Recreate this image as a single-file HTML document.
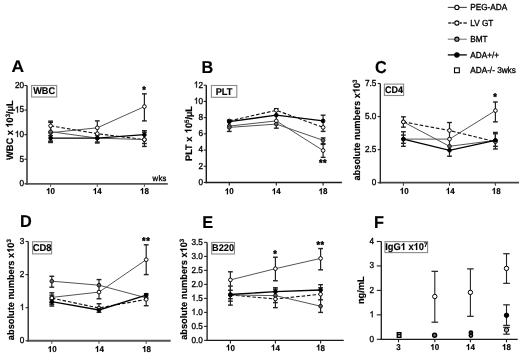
<!DOCTYPE html><html><head><meta charset="utf-8"><style>html,body{margin:0;padding:0;background:#fff;width:520px;height:355px;overflow:hidden}svg{display:block;font-family:"Liberation Sans",sans-serif;will-change:transform;text-rendering:geometricPrecision}</style></head><body>
<svg width="520" height="355" viewBox="0 0 520 355">
<rect width="520" height="355" fill="#fff"/>
<text transform="translate(11.5,72.3) scale(1.07,1.02)" font-size="16.3" font-weight="bold" stroke="#000" stroke-width="0.15">A</text>
<line x1="27" y1="85.5" x2="27" y2="184.70000000000002" stroke="#555" stroke-width="1.8" />
<line x1="26.1" y1="183.8" x2="167.8" y2="183.8" stroke="#555" stroke-width="1.8" />
<line x1="24.4" y1="183.8" x2="27" y2="183.8" stroke="#222" stroke-width="1.1" />
<text transform="translate(24.0,186.20000000000002) scale(1,1.06)" font-size="8.2" font-weight="normal" text-anchor="end" fill="#000"  stroke="#000" stroke-width="0.3">0</text>
<line x1="24.4" y1="159.22500000000002" x2="27" y2="159.22500000000002" stroke="#222" stroke-width="1.1" />
<text transform="translate(24.0,161.62500000000003) scale(1,1.06)" font-size="8.2" font-weight="normal" text-anchor="end" fill="#000"  stroke="#000" stroke-width="0.3">5</text>
<line x1="24.4" y1="134.65" x2="27" y2="134.65" stroke="#222" stroke-width="1.1" />
<path d="M763,0L583,0L583,1147C540,1106 483,1065 413,1024C343,983 280,952 224,931L224,1105C325,1152 413,1210 488,1277C563,1344 616,1409 647,1472L763,1472Z" transform="translate(14.88,137.05) scale(0.00400,-0.00424)" fill="#000" stroke="#000" stroke-width="0.3" vector-effect="non-scaling-stroke"/>
<text transform="translate(19.44,137.05) scale(1,1.06)" font-size="8.2" font-weight="normal" text-anchor="start" fill="#000"  stroke="#000" stroke-width="0.3">0</text>
<line x1="24.4" y1="110.075" x2="27" y2="110.075" stroke="#222" stroke-width="1.1" />
<path d="M763,0L583,0L583,1147C540,1106 483,1065 413,1024C343,983 280,952 224,931L224,1105C325,1152 413,1210 488,1277C563,1344 616,1409 647,1472L763,1472Z" transform="translate(14.88,112.47500000000001) scale(0.00400,-0.00424)" fill="#000" stroke="#000" stroke-width="0.3" vector-effect="non-scaling-stroke"/>
<text transform="translate(19.44,112.47500000000001) scale(1,1.06)" font-size="8.2" font-weight="normal" text-anchor="start" fill="#000"  stroke="#000" stroke-width="0.3">5</text>
<line x1="24.4" y1="85.5" x2="27" y2="85.5" stroke="#222" stroke-width="1.1" />
<text transform="translate(24.0,87.9) scale(1,1.06)" font-size="8.2" font-weight="normal" text-anchor="end" fill="#000"  stroke="#000" stroke-width="0.3">20</text>
<line x1="50.6" y1="183.8" x2="50.6" y2="186.8" stroke="#555" stroke-width="1.1" />
<path d="M806,0L525,0L525,1036C422,940 300,867 160,818L160,1068C234,1092 314,1138 400,1205C486,1272 546,1359 579,1466L806,1466Z" transform="translate(46.15,194.0) scale(0.00391,-0.00414)" fill="#000" stroke="#000" stroke-width="0.15" vector-effect="non-scaling-stroke"/>
<text transform="translate(50.6,194.0) scale(1,1.06)" font-size="8" font-weight="bold" text-anchor="start" fill="#000"  stroke="#000" stroke-width="0.15">0</text>
<line x1="97.3" y1="183.8" x2="97.3" y2="186.8" stroke="#555" stroke-width="1.1" />
<path d="M806,0L525,0L525,1036C422,940 300,867 160,818L160,1068C234,1092 314,1138 400,1205C486,1272 546,1359 579,1466L806,1466Z" transform="translate(92.85,194.0) scale(0.00391,-0.00414)" fill="#000" stroke="#000" stroke-width="0.15" vector-effect="non-scaling-stroke"/>
<text transform="translate(97.3,194.0) scale(1,1.06)" font-size="8" font-weight="bold" text-anchor="start" fill="#000"  stroke="#000" stroke-width="0.15">4</text>
<line x1="144.4" y1="183.8" x2="144.4" y2="186.8" stroke="#555" stroke-width="1.1" />
<path d="M806,0L525,0L525,1036C422,940 300,867 160,818L160,1068C234,1092 314,1138 400,1205C486,1272 546,1359 579,1466L806,1466Z" transform="translate(139.95,194.0) scale(0.00391,-0.00414)" fill="#000" stroke="#000" stroke-width="0.15" vector-effect="non-scaling-stroke"/>
<text transform="translate(144.4,194.0) scale(1,1.06)" font-size="8" font-weight="bold" text-anchor="start" fill="#000"  stroke="#000" stroke-width="0.15">8</text>
<g transform="translate(12.6,130.2) rotate(-90)"><text style="white-space:pre" transform="translate(-29.83,0) scale(1,1.03)" font-size="9.25" font-weight="bold" stroke="#000" stroke-width="0.15">WBC x </text><path d="M806,0L525,0L525,1036C422,940 300,867 160,818L160,1068C234,1092 314,1138 400,1205C486,1272 546,1359 579,1466L806,1466Z" transform="translate(2.54,0) scale(0.00452,-0.00465)" fill="#000" stroke="#000" stroke-width="0.15" vector-effect="non-scaling-stroke"/><text style="white-space:pre" transform="translate(7.69,0) scale(1,1.03)" font-size="9.25" font-weight="bold" stroke="#000" stroke-width="0.15">0</text><text style="white-space:pre" transform="translate(12.83,-2.8) scale(1,1.03)" font-size="6.2" font-weight="bold" stroke="#000" stroke-width="0.15">3</text><text style="white-space:pre" transform="translate(16.28,0) scale(1,1.03)" font-size="9.25" font-weight="bold" stroke="#000" stroke-width="0.15">/µL</text></g>
<rect x="31.6" y="85.5" width="25.1" height="11.5" fill="#fff" stroke="#8a8a8a" stroke-width="1.1"/>
<text transform="translate(44.150000000000006,94.39999999999999) scale(1,1.06)" font-size="9.2" font-weight="bold" text-anchor="middle" fill="#000"  stroke="#000" stroke-width="0.15">WBC</text>
<polyline points="50.6,132.7 97.3,127.8 144.4,106.6" fill="none" stroke="#555" stroke-width="1.0" />
<polyline points="50.6,125.8 97.3,133.7 144.4,139.6" fill="none" stroke="#111" stroke-width="1.1" stroke-dasharray="3.6,1.9"/>
<polyline points="50.6,131.7 97.3,138.1 144.4,139.6" fill="none" stroke="#555" stroke-width="1.0" />
<polyline points="50.6,138.1 97.3,138.1 144.4,134.7" fill="none" stroke="#000" stroke-width="1.35" />
<line x1="50.6" y1="122.3625" x2="50.6" y2="142.0225" stroke="#222" stroke-width="1.2" />
<line x1="48.2" y1="122.3625" x2="53.0" y2="122.3625" stroke="#222" stroke-width="1.4" />
<line x1="48.2" y1="142.0225" x2="53.0" y2="142.0225" stroke="#222" stroke-width="1.4" />
<line x1="50.6" y1="121.13374999999999" x2="50.6" y2="141.0395" stroke="#222" stroke-width="1.2" />
<line x1="48.2" y1="121.13374999999999" x2="53.0" y2="121.13374999999999" stroke="#222" stroke-width="1.4" />
<line x1="48.2" y1="141.0395" x2="53.0" y2="141.0395" stroke="#222" stroke-width="1.4" />
<line x1="50.6" y1="135.63299999999998" x2="50.6" y2="142.514" stroke="#222" stroke-width="1.2" />
<line x1="48.2" y1="135.63299999999998" x2="53.0" y2="135.63299999999998" stroke="#222" stroke-width="1.4" />
<line x1="48.2" y1="142.514" x2="53.0" y2="142.514" stroke="#222" stroke-width="1.4" />
<line x1="97.3" y1="120.888" x2="97.3" y2="142.0225" stroke="#222" stroke-width="1.2" />
<line x1="94.89999999999999" y1="120.888" x2="99.7" y2="120.888" stroke="#222" stroke-width="1.4" />
<line x1="94.89999999999999" y1="142.0225" x2="99.7" y2="142.0225" stroke="#222" stroke-width="1.4" />
<line x1="97.3" y1="135.1415" x2="97.3" y2="143.00549999999998" stroke="#222" stroke-width="1.2" />
<line x1="94.89999999999999" y1="135.1415" x2="99.7" y2="135.1415" stroke="#222" stroke-width="1.4" />
<line x1="94.89999999999999" y1="143.00549999999998" x2="99.7" y2="143.00549999999998" stroke="#222" stroke-width="1.4" />
<line x1="144.4" y1="93.85549999999999" x2="144.4" y2="120.888" stroke="#222" stroke-width="1.2" />
<line x1="142.0" y1="93.85549999999999" x2="146.8" y2="93.85549999999999" stroke="#222" stroke-width="1.4" />
<line x1="142.0" y1="120.888" x2="146.8" y2="120.888" stroke="#222" stroke-width="1.4" />
<line x1="144.4" y1="130.718" x2="144.4" y2="146.446" stroke="#222" stroke-width="1.2" />
<line x1="142.0" y1="130.718" x2="146.8" y2="130.718" stroke="#222" stroke-width="1.4" />
<line x1="142.0" y1="146.446" x2="146.8" y2="146.446" stroke="#222" stroke-width="1.4" />
<line x1="144.4" y1="132.1925" x2="144.4" y2="143.497" stroke="#222" stroke-width="1.2" />
<line x1="142.0" y1="132.1925" x2="146.8" y2="132.1925" stroke="#222" stroke-width="1.4" />
<line x1="142.0" y1="143.497" x2="146.8" y2="143.497" stroke="#222" stroke-width="1.4" />
<circle cx="50.6" cy="132.7" r="1.85" fill="#fff" stroke="#000" stroke-width="0.95"/>
<circle cx="97.3" cy="127.8" r="1.85" fill="#fff" stroke="#000" stroke-width="0.95"/>
<circle cx="144.4" cy="106.6" r="1.85" fill="#fff" stroke="#000" stroke-width="0.95"/>
<circle cx="50.6" cy="131.7" r="1.85" fill="#666" stroke="#111" stroke-width="0.95"/>
<circle cx="97.3" cy="138.1" r="1.85" fill="#666" stroke="#111" stroke-width="0.95"/>
<circle cx="144.4" cy="139.6" r="1.85" fill="#666" stroke="#111" stroke-width="0.95"/>
<circle cx="50.6" cy="125.8" r="1.85" fill="#fff" stroke="#000" stroke-width="0.95"/>
<circle cx="97.3" cy="133.7" r="1.85" fill="#fff" stroke="#000" stroke-width="0.95"/>
<circle cx="144.4" cy="139.6" r="1.85" fill="#fff" stroke="#000" stroke-width="0.95"/>
<circle cx="50.6" cy="138.1" r="1.85" fill="#000" stroke="#000" stroke-width="0.95"/>
<circle cx="97.3" cy="138.1" r="1.85" fill="#000" stroke="#000" stroke-width="0.95"/>
<circle cx="144.4" cy="134.7" r="1.85" fill="#000" stroke="#000" stroke-width="0.95"/>
<text transform="translate(144.4,92.6) scale(1,1.06)" font-size="9.2" font-weight="bold" text-anchor="middle" fill="#000" stroke="#000" stroke-width="0.35" letter-spacing="0.6">*</text>
<text transform="translate(201.6,73.0) scale(1,1.06)" font-size="16.3" font-weight="bold" text-anchor="start" fill="#000"  stroke="#000" stroke-width="0.15">B</text>
<line x1="206.3" y1="85.2" x2="206.3" y2="183.2" stroke="#1a1a1a" stroke-width="1.4" />
<line x1="205.60000000000002" y1="182.5" x2="341.9" y2="182.5" stroke="#1a1a1a" stroke-width="1.4" />
<line x1="203.70000000000002" y1="182.5" x2="206.3" y2="182.5" stroke="#222" stroke-width="1.1" />
<text transform="translate(203.0,184.9) scale(1,1.06)" font-size="8.2" font-weight="normal" text-anchor="end" fill="#000"  stroke="#000" stroke-width="0.3">0</text>
<line x1="203.70000000000002" y1="166.28333333333333" x2="206.3" y2="166.28333333333333" stroke="#222" stroke-width="1.1" />
<text transform="translate(203.0,168.68333333333334) scale(1,1.06)" font-size="8.2" font-weight="normal" text-anchor="end" fill="#000"  stroke="#000" stroke-width="0.3">2</text>
<line x1="203.70000000000002" y1="150.06666666666666" x2="206.3" y2="150.06666666666666" stroke="#222" stroke-width="1.1" />
<text transform="translate(203.0,152.46666666666667) scale(1,1.06)" font-size="8.2" font-weight="normal" text-anchor="end" fill="#000"  stroke="#000" stroke-width="0.3">4</text>
<line x1="203.70000000000002" y1="133.85000000000002" x2="206.3" y2="133.85000000000002" stroke="#222" stroke-width="1.1" />
<text transform="translate(203.0,136.25000000000003) scale(1,1.06)" font-size="8.2" font-weight="normal" text-anchor="end" fill="#000"  stroke="#000" stroke-width="0.3">6</text>
<line x1="203.70000000000002" y1="117.63333333333334" x2="206.3" y2="117.63333333333334" stroke="#222" stroke-width="1.1" />
<text transform="translate(203.0,120.03333333333335) scale(1,1.06)" font-size="8.2" font-weight="normal" text-anchor="end" fill="#000"  stroke="#000" stroke-width="0.3">8</text>
<line x1="203.70000000000002" y1="101.41666666666667" x2="206.3" y2="101.41666666666667" stroke="#222" stroke-width="1.1" />
<path d="M763,0L583,0L583,1147C540,1106 483,1065 413,1024C343,983 280,952 224,931L224,1105C325,1152 413,1210 488,1277C563,1344 616,1409 647,1472L763,1472Z" transform="translate(193.88,103.81666666666668) scale(0.00400,-0.00424)" fill="#000" stroke="#000" stroke-width="0.3" vector-effect="non-scaling-stroke"/>
<text transform="translate(198.44,103.81666666666668) scale(1,1.06)" font-size="8.2" font-weight="normal" text-anchor="start" fill="#000"  stroke="#000" stroke-width="0.3">0</text>
<line x1="203.70000000000002" y1="85.20000000000002" x2="206.3" y2="85.20000000000002" stroke="#222" stroke-width="1.1" />
<path d="M763,0L583,0L583,1147C540,1106 483,1065 413,1024C343,983 280,952 224,931L224,1105C325,1152 413,1210 488,1277C563,1344 616,1409 647,1472L763,1472Z" transform="translate(193.88,87.60000000000002) scale(0.00400,-0.00424)" fill="#000" stroke="#000" stroke-width="0.3" vector-effect="non-scaling-stroke"/>
<text transform="translate(198.44,87.60000000000002) scale(1,1.06)" font-size="8.2" font-weight="normal" text-anchor="start" fill="#000"  stroke="#000" stroke-width="0.3">2</text>
<line x1="229.3" y1="182.5" x2="229.3" y2="185.5" stroke="#1a1a1a" stroke-width="1.1" />
<path d="M806,0L525,0L525,1036C422,940 300,867 160,818L160,1068C234,1092 314,1138 400,1205C486,1272 546,1359 579,1466L806,1466Z" transform="translate(224.85,194.3) scale(0.00391,-0.00414)" fill="#000" stroke="#000" stroke-width="0.15" vector-effect="non-scaling-stroke"/>
<text transform="translate(229.3,194.3) scale(1,1.06)" font-size="8" font-weight="bold" text-anchor="start" fill="#000"  stroke="#000" stroke-width="0.15">0</text>
<line x1="276.3" y1="182.5" x2="276.3" y2="185.5" stroke="#1a1a1a" stroke-width="1.1" />
<path d="M806,0L525,0L525,1036C422,940 300,867 160,818L160,1068C234,1092 314,1138 400,1205C486,1272 546,1359 579,1466L806,1466Z" transform="translate(271.85,194.3) scale(0.00391,-0.00414)" fill="#000" stroke="#000" stroke-width="0.15" vector-effect="non-scaling-stroke"/>
<text transform="translate(276.3,194.3) scale(1,1.06)" font-size="8" font-weight="bold" text-anchor="start" fill="#000"  stroke="#000" stroke-width="0.15">4</text>
<line x1="323.1" y1="182.5" x2="323.1" y2="185.5" stroke="#1a1a1a" stroke-width="1.1" />
<path d="M806,0L525,0L525,1036C422,940 300,867 160,818L160,1068C234,1092 314,1138 400,1205C486,1272 546,1359 579,1466L806,1466Z" transform="translate(318.65,194.3) scale(0.00391,-0.00414)" fill="#000" stroke="#000" stroke-width="0.15" vector-effect="non-scaling-stroke"/>
<text transform="translate(323.1,194.3) scale(1,1.06)" font-size="8" font-weight="bold" text-anchor="start" fill="#000"  stroke="#000" stroke-width="0.15">8</text>
<g transform="translate(191.5,133.5) rotate(-90)"><text style="white-space:pre" transform="translate(-27.52,0) scale(1,1.03)" font-size="9.25" font-weight="bold" stroke="#000" stroke-width="0.15">PLT x </text><path d="M806,0L525,0L525,1036C422,940 300,867 160,818L160,1068C234,1092 314,1138 400,1205C486,1272 546,1359 579,1466L806,1466Z" transform="translate(0.23,0) scale(0.00452,-0.00465)" fill="#000" stroke="#000" stroke-width="0.15" vector-effect="non-scaling-stroke"/><text style="white-space:pre" transform="translate(5.38,0) scale(1,1.03)" font-size="9.25" font-weight="bold" stroke="#000" stroke-width="0.15">0</text><text style="white-space:pre" transform="translate(10.52,-2.8) scale(1,1.03)" font-size="6.2" font-weight="bold" stroke="#000" stroke-width="0.15">5</text><text style="white-space:pre" transform="translate(13.97,0) scale(1,1.03)" font-size="9.25" font-weight="bold" stroke="#000" stroke-width="0.15">/µL</text></g>
<rect x="211.4" y="85.5" width="25.400000000000006" height="11.799999999999997" fill="#fff" stroke="#8a8a8a" stroke-width="1.1"/>
<text transform="translate(224.10000000000002,94.8) scale(1,1.06)" font-size="9.3" font-weight="bold" text-anchor="middle" fill="#000"  stroke="#000" stroke-width="0.15">PLT</text>
<polyline points="229.3,126.1 276.3,120.9 323.1,150.5" fill="none" stroke="#555" stroke-width="1.0" />
<polyline points="229.3,120.9 276.3,110.3 323.1,127.4" fill="none" stroke="#111" stroke-width="1.1" stroke-dasharray="3.6,1.9"/>
<polyline points="229.3,127.4 276.3,124.1 323.1,140.3" fill="none" stroke="#555" stroke-width="1.0" />
<polyline points="229.3,121.7 276.3,115.2 323.1,120.9" fill="none" stroke="#000" stroke-width="1.35" />
<line x1="229.3" y1="120.06583333333333" x2="229.3" y2="131.41750000000002" stroke="#222" stroke-width="1.2" />
<line x1="226.9" y1="120.06583333333333" x2="231.70000000000002" y2="120.06583333333333" stroke="#222" stroke-width="1.4" />
<line x1="226.9" y1="131.41750000000002" x2="231.70000000000002" y2="131.41750000000002" stroke="#222" stroke-width="1.4" />
<line x1="276.3" y1="108.71416666666667" x2="276.3" y2="128.17416666666668" stroke="#222" stroke-width="1.2" />
<line x1="273.90000000000003" y1="108.71416666666667" x2="278.7" y2="108.71416666666667" stroke="#222" stroke-width="1.4" />
<line x1="273.90000000000003" y1="128.17416666666668" x2="278.7" y2="128.17416666666668" stroke="#222" stroke-width="1.4" />
<line x1="323.1" y1="115.20083333333334" x2="323.1" y2="131.41750000000002" stroke="#222" stroke-width="1.2" />
<line x1="320.70000000000005" y1="115.20083333333334" x2="325.5" y2="115.20083333333334" stroke="#222" stroke-width="1.4" />
<line x1="320.70000000000005" y1="131.41750000000002" x2="325.5" y2="131.41750000000002" stroke="#222" stroke-width="1.4" />
<line x1="323.1" y1="137.90416666666667" x2="323.1" y2="143.58" stroke="#222" stroke-width="1.2" />
<line x1="320.70000000000005" y1="137.90416666666667" x2="325.5" y2="137.90416666666667" stroke="#222" stroke-width="1.4" />
<line x1="320.70000000000005" y1="143.58" x2="325.5" y2="143.58" stroke="#222" stroke-width="1.4" />
<line x1="323.1" y1="144.39083333333332" x2="323.1" y2="157.36416666666668" stroke="#222" stroke-width="1.2" />
<line x1="320.70000000000005" y1="144.39083333333332" x2="325.5" y2="144.39083333333332" stroke="#222" stroke-width="1.4" />
<line x1="320.70000000000005" y1="157.36416666666668" x2="325.5" y2="157.36416666666668" stroke="#222" stroke-width="1.4" />
<circle cx="229.3" cy="126.1" r="1.85" fill="#fff" stroke="#000" stroke-width="0.95"/>
<circle cx="276.3" cy="120.9" r="1.85" fill="#fff" stroke="#000" stroke-width="0.95"/>
<circle cx="323.1" cy="150.5" r="1.85" fill="#fff" stroke="#000" stroke-width="0.95"/>
<circle cx="229.3" cy="127.4" r="1.85" fill="#666" stroke="#111" stroke-width="0.95"/>
<circle cx="276.3" cy="124.1" r="1.85" fill="#666" stroke="#111" stroke-width="0.95"/>
<circle cx="323.1" cy="140.3" r="1.85" fill="#666" stroke="#111" stroke-width="0.95"/>
<circle cx="229.3" cy="120.9" r="1.85" fill="#fff" stroke="#000" stroke-width="0.95"/>
<circle cx="276.3" cy="110.3" r="1.85" fill="#fff" stroke="#000" stroke-width="0.95"/>
<circle cx="323.1" cy="127.4" r="1.85" fill="#fff" stroke="#000" stroke-width="0.95"/>
<circle cx="229.3" cy="121.7" r="1.85" fill="#000" stroke="#000" stroke-width="0.95"/>
<circle cx="276.3" cy="115.2" r="1.85" fill="#000" stroke="#000" stroke-width="0.95"/>
<circle cx="323.1" cy="120.9" r="1.85" fill="#000" stroke="#000" stroke-width="0.95"/>
<text transform="translate(323.1,165.8) scale(1,1.06)" font-size="9.2" font-weight="bold" text-anchor="middle" fill="#000" stroke="#000" stroke-width="0.35" letter-spacing="0.6">**</text>
<text transform="translate(375.0,72.9) scale(1,1.06)" font-size="16.3" font-weight="bold" text-anchor="start" fill="#000"  stroke="#000" stroke-width="0.15">C</text>
<line x1="380.3" y1="83.5" x2="380.3" y2="183.54999999999998" stroke="#1a1a1a" stroke-width="1.3" />
<line x1="379.65000000000003" y1="182.7" x2="519" y2="182.7" stroke="#444" stroke-width="1.7" />
<line x1="377.7" y1="182.7" x2="380.3" y2="182.7" stroke="#222" stroke-width="1.1" />
<text transform="translate(376.3,185.1) scale(1,1.06)" font-size="8.2" font-weight="normal" text-anchor="end" fill="#000"  stroke="#000" stroke-width="0.3">0</text>
<line x1="377.7" y1="149.63333333333333" x2="380.3" y2="149.63333333333333" stroke="#222" stroke-width="1.1" />
<text transform="translate(376.3,152.03333333333333) scale(1,1.06)" font-size="8.2" font-weight="normal" text-anchor="end" fill="#000"  stroke="#000" stroke-width="0.3">2.5</text>
<line x1="377.7" y1="116.56666666666666" x2="380.3" y2="116.56666666666666" stroke="#222" stroke-width="1.1" />
<text transform="translate(376.3,118.96666666666667) scale(1,1.06)" font-size="8.2" font-weight="normal" text-anchor="end" fill="#000"  stroke="#000" stroke-width="0.3">5.0</text>
<line x1="377.7" y1="83.5" x2="380.3" y2="83.5" stroke="#222" stroke-width="1.1" />
<text transform="translate(376.3,85.9) scale(1,1.06)" font-size="8.2" font-weight="normal" text-anchor="end" fill="#000"  stroke="#000" stroke-width="0.3">7.5</text>
<line x1="403.4" y1="182.7" x2="403.4" y2="185.7" stroke="#444" stroke-width="1.1" />
<path d="M806,0L525,0L525,1036C422,940 300,867 160,818L160,1068C234,1092 314,1138 400,1205C486,1272 546,1359 579,1466L806,1466Z" transform="translate(399.75,193.89999999999998) scale(0.00391,-0.00414)" fill="#000" stroke="#000" stroke-width="0.15" vector-effect="non-scaling-stroke"/>
<text transform="translate(404.2,193.89999999999998) scale(1,1.06)" font-size="8" font-weight="bold" text-anchor="start" fill="#000"  stroke="#000" stroke-width="0.15">0</text>
<line x1="449.5" y1="182.7" x2="449.5" y2="185.7" stroke="#444" stroke-width="1.1" />
<path d="M806,0L525,0L525,1036C422,940 300,867 160,818L160,1068C234,1092 314,1138 400,1205C486,1272 546,1359 579,1466L806,1466Z" transform="translate(445.85,193.89999999999998) scale(0.00391,-0.00414)" fill="#000" stroke="#000" stroke-width="0.15" vector-effect="non-scaling-stroke"/>
<text transform="translate(450.3,193.89999999999998) scale(1,1.06)" font-size="8" font-weight="bold" text-anchor="start" fill="#000"  stroke="#000" stroke-width="0.15">4</text>
<line x1="495.4" y1="182.7" x2="495.4" y2="185.7" stroke="#444" stroke-width="1.1" />
<path d="M806,0L525,0L525,1036C422,940 300,867 160,818L160,1068C234,1092 314,1138 400,1205C486,1272 546,1359 579,1466L806,1466Z" transform="translate(491.75,193.89999999999998) scale(0.00391,-0.00414)" fill="#000" stroke="#000" stroke-width="0.15" vector-effect="non-scaling-stroke"/>
<text transform="translate(496.2,193.89999999999998) scale(1,1.06)" font-size="8" font-weight="bold" text-anchor="start" fill="#000"  stroke="#000" stroke-width="0.15">8</text>
<g transform="translate(359.6,130) rotate(-90)"><text style="white-space:pre" transform="translate(-50.56,0) scale(1,1.03)" font-size="9.25" font-weight="bold" stroke="#000" stroke-width="0.15">absolute numbers x</text><path d="M806,0L525,0L525,1036C422,940 300,867 160,818L160,1068C234,1092 314,1138 400,1205C486,1272 546,1359 579,1466L806,1466Z" transform="translate(36.82,0) scale(0.00452,-0.00465)" fill="#000" stroke="#000" stroke-width="0.15" vector-effect="non-scaling-stroke"/><text style="white-space:pre" transform="translate(41.97,0) scale(1,1.03)" font-size="9.25" font-weight="bold" stroke="#000" stroke-width="0.15">0</text><text style="white-space:pre" transform="translate(47.11,-2.8) scale(1,1.03)" font-size="6.2" font-weight="bold" stroke="#000" stroke-width="0.15">3</text></g>
<rect x="384.4" y="84.1" width="19.200000000000045" height="11.400000000000006" fill="#fff" stroke="#8a8a8a" stroke-width="1.1"/>
<text transform="translate(394.0,92.6) scale(1,1.06)" font-size="9" font-weight="bold" text-anchor="middle" fill="#000"  stroke="#000" stroke-width="0.15">CD4</text>
<polyline points="403.4,139.1 449.5,139.1 495.4,110.6" fill="none" stroke="#555" stroke-width="1.0" />
<polyline points="403.4,121.9 449.5,130.5 495.4,141.7" fill="none" stroke="#111" stroke-width="1.1" stroke-dasharray="3.6,1.9"/>
<polyline points="403.4,121.9 449.5,146.3 495.4,140.4" fill="none" stroke="#555" stroke-width="1.0" />
<polyline points="403.4,139.1 449.5,150.3 495.4,140.4" fill="none" stroke="#000" stroke-width="1.35" />
<line x1="403.4" y1="116.8312" x2="403.4" y2="127.148" stroke="#222" stroke-width="1.2" />
<line x1="401.0" y1="116.8312" x2="405.79999999999995" y2="116.8312" stroke="#222" stroke-width="1.4" />
<line x1="401.0" y1="127.148" x2="405.79999999999995" y2="127.148" stroke="#222" stroke-width="1.4" />
<line x1="403.4" y1="131.77733333333333" x2="403.4" y2="146.32666666666665" stroke="#222" stroke-width="1.2" />
<line x1="401.0" y1="131.77733333333333" x2="405.79999999999995" y2="131.77733333333333" stroke="#222" stroke-width="1.4" />
<line x1="401.0" y1="146.32666666666665" x2="405.79999999999995" y2="146.32666666666665" stroke="#222" stroke-width="1.4" />
<line x1="403.4" y1="135.084" x2="403.4" y2="143.28453333333334" stroke="#222" stroke-width="1.2" />
<line x1="401.0" y1="135.084" x2="405.79999999999995" y2="135.084" stroke="#222" stroke-width="1.4" />
<line x1="401.0" y1="143.28453333333334" x2="405.79999999999995" y2="143.28453333333334" stroke="#222" stroke-width="1.4" />
<line x1="449.5" y1="122.51866666666666" x2="449.5" y2="156.24666666666667" stroke="#222" stroke-width="1.2" />
<line x1="447.1" y1="122.51866666666666" x2="451.9" y2="122.51866666666666" stroke="#222" stroke-width="1.4" />
<line x1="447.1" y1="156.24666666666667" x2="451.9" y2="156.24666666666667" stroke="#222" stroke-width="1.4" />
<line x1="495.4" y1="102.01733333333334" x2="495.4" y2="121.85733333333334" stroke="#222" stroke-width="1.2" />
<line x1="493.0" y1="102.01733333333334" x2="497.79999999999995" y2="102.01733333333334" stroke="#222" stroke-width="1.4" />
<line x1="493.0" y1="121.85733333333334" x2="497.79999999999995" y2="121.85733333333334" stroke="#222" stroke-width="1.4" />
<line x1="495.4" y1="132.43866666666668" x2="495.4" y2="148.97199999999998" stroke="#222" stroke-width="1.2" />
<line x1="493.0" y1="132.43866666666668" x2="497.79999999999995" y2="132.43866666666668" stroke="#222" stroke-width="1.4" />
<line x1="493.0" y1="148.97199999999998" x2="497.79999999999995" y2="148.97199999999998" stroke="#222" stroke-width="1.4" />
<line x1="495.4" y1="133.7613333333333" x2="495.4" y2="146.32666666666665" stroke="#222" stroke-width="1.2" />
<line x1="493.0" y1="133.7613333333333" x2="497.79999999999995" y2="133.7613333333333" stroke="#222" stroke-width="1.4" />
<line x1="493.0" y1="146.32666666666665" x2="497.79999999999995" y2="146.32666666666665" stroke="#222" stroke-width="1.4" />
<circle cx="403.4" cy="139.1" r="1.85" fill="#fff" stroke="#000" stroke-width="0.95"/>
<circle cx="449.5" cy="139.1" r="1.85" fill="#fff" stroke="#000" stroke-width="0.95"/>
<circle cx="495.4" cy="110.6" r="1.85" fill="#fff" stroke="#000" stroke-width="0.95"/>
<circle cx="403.4" cy="121.9" r="1.85" fill="#666" stroke="#111" stroke-width="0.95"/>
<circle cx="449.5" cy="146.3" r="1.85" fill="#666" stroke="#111" stroke-width="0.95"/>
<circle cx="495.4" cy="140.4" r="1.85" fill="#666" stroke="#111" stroke-width="0.95"/>
<circle cx="403.4" cy="121.9" r="1.85" fill="#fff" stroke="#000" stroke-width="0.95"/>
<circle cx="449.5" cy="130.5" r="1.85" fill="#fff" stroke="#000" stroke-width="0.95"/>
<circle cx="495.4" cy="141.7" r="1.85" fill="#fff" stroke="#000" stroke-width="0.95"/>
<circle cx="403.4" cy="139.1" r="1.85" fill="#000" stroke="#000" stroke-width="0.95"/>
<circle cx="449.5" cy="150.3" r="1.85" fill="#000" stroke="#000" stroke-width="0.95"/>
<circle cx="495.4" cy="140.4" r="1.85" fill="#000" stroke="#000" stroke-width="0.95"/>
<text transform="translate(495.4,100.2) scale(1,1.06)" font-size="9.2" font-weight="bold" text-anchor="middle" fill="#000" stroke="#000" stroke-width="0.35" letter-spacing="0.6">*</text>
<text transform="translate(20.1,226.5) scale(1,1.06)" font-size="16.3" font-weight="bold" text-anchor="start" fill="#000"  stroke="#000" stroke-width="0.15">D</text>
<line x1="28.2" y1="241.5" x2="28.2" y2="341.75" stroke="#1a1a1a" stroke-width="1.3" />
<line x1="27.55" y1="340.8" x2="170.7" y2="340.8" stroke="#555" stroke-width="1.9" />
<line x1="25.599999999999998" y1="340.8" x2="28.2" y2="340.8" stroke="#222" stroke-width="1.1" />
<text transform="translate(24.4,343.2) scale(1,1.06)" font-size="8.2" font-weight="normal" text-anchor="end" fill="#000"  stroke="#000" stroke-width="0.3">0</text>
<line x1="25.599999999999998" y1="307.7" x2="28.2" y2="307.7" stroke="#222" stroke-width="1.1" />
<path d="M763,0L583,0L583,1147C540,1106 483,1065 413,1024C343,983 280,952 224,931L224,1105C325,1152 413,1210 488,1277C563,1344 616,1409 647,1472L763,1472Z" transform="translate(19.84,310.09999999999997) scale(0.00400,-0.00424)" fill="#000" stroke="#000" stroke-width="0.3" vector-effect="non-scaling-stroke"/>
<line x1="25.599999999999998" y1="274.6" x2="28.2" y2="274.6" stroke="#222" stroke-width="1.1" />
<text transform="translate(24.4,277.0) scale(1,1.06)" font-size="8.2" font-weight="normal" text-anchor="end" fill="#000"  stroke="#000" stroke-width="0.3">2</text>
<line x1="25.599999999999998" y1="241.5" x2="28.2" y2="241.5" stroke="#222" stroke-width="1.1" />
<text transform="translate(24.4,243.9) scale(1,1.06)" font-size="8.2" font-weight="normal" text-anchor="end" fill="#000"  stroke="#000" stroke-width="0.3">3</text>
<line x1="51.8" y1="340.8" x2="51.8" y2="343.8" stroke="#555" stroke-width="1.1" />
<path d="M806,0L525,0L525,1036C422,940 300,867 160,818L160,1068C234,1092 314,1138 400,1205C486,1272 546,1359 579,1466L806,1466Z" transform="translate(47.75,352.0) scale(0.00391,-0.00414)" fill="#000" stroke="#000" stroke-width="0.15" vector-effect="non-scaling-stroke"/>
<text transform="translate(52.2,352.0) scale(1,1.06)" font-size="8" font-weight="bold" text-anchor="start" fill="#000"  stroke="#000" stroke-width="0.15">0</text>
<line x1="99" y1="340.8" x2="99" y2="343.8" stroke="#555" stroke-width="1.1" />
<path d="M806,0L525,0L525,1036C422,940 300,867 160,818L160,1068C234,1092 314,1138 400,1205C486,1272 546,1359 579,1466L806,1466Z" transform="translate(94.95,352.0) scale(0.00391,-0.00414)" fill="#000" stroke="#000" stroke-width="0.15" vector-effect="non-scaling-stroke"/>
<text transform="translate(99.4,352.0) scale(1,1.06)" font-size="8" font-weight="bold" text-anchor="start" fill="#000"  stroke="#000" stroke-width="0.15">4</text>
<line x1="146.2" y1="340.8" x2="146.2" y2="343.8" stroke="#555" stroke-width="1.1" />
<path d="M806,0L525,0L525,1036C422,940 300,867 160,818L160,1068C234,1092 314,1138 400,1205C486,1272 546,1359 579,1466L806,1466Z" transform="translate(142.15,352.0) scale(0.00391,-0.00414)" fill="#000" stroke="#000" stroke-width="0.15" vector-effect="non-scaling-stroke"/>
<text transform="translate(146.6,352.0) scale(1,1.06)" font-size="8" font-weight="bold" text-anchor="start" fill="#000"  stroke="#000" stroke-width="0.15">8</text>
<g transform="translate(13.8,289.6) rotate(-90)"><text style="white-space:pre" transform="translate(-50.56,0) scale(1,1.03)" font-size="9.25" font-weight="bold" stroke="#000" stroke-width="0.15">absolute numbers x</text><path d="M806,0L525,0L525,1036C422,940 300,867 160,818L160,1068C234,1092 314,1138 400,1205C486,1272 546,1359 579,1466L806,1466Z" transform="translate(36.82,0) scale(0.00452,-0.00465)" fill="#000" stroke="#000" stroke-width="0.15" vector-effect="non-scaling-stroke"/><text style="white-space:pre" transform="translate(41.97,0) scale(1,1.03)" font-size="9.25" font-weight="bold" stroke="#000" stroke-width="0.15">0</text><text style="white-space:pre" transform="translate(47.11,-2.8) scale(1,1.03)" font-size="6.2" font-weight="bold" stroke="#000" stroke-width="0.15">3</text></g>
<rect x="32.6" y="241.7" width="19.0" height="12.200000000000017" fill="#fff" stroke="#8a8a8a" stroke-width="1.1"/>
<text transform="translate(42.1,251.0) scale(1,1.06)" font-size="9.4" font-weight="bold" text-anchor="middle" fill="#000"  stroke="#000" stroke-width="0.15">CD8</text>
<polyline points="51.8,297.4 99.0,292.1 146.2,259.7" fill="none" stroke="#555" stroke-width="1.0" />
<polyline points="51.8,298.1 99.0,308.0 146.2,299.4" fill="none" stroke="#111" stroke-width="1.1" stroke-dasharray="3.6,1.9"/>
<polyline points="51.8,281.2 99.0,285.2 146.2,297.8" fill="none" stroke="#555" stroke-width="1.0" />
<polyline points="51.8,301.7 99.0,310.0 146.2,295.1" fill="none" stroke="#000" stroke-width="1.35" />
<line x1="51.8" y1="276.255" x2="51.8" y2="287.178" stroke="#222" stroke-width="1.2" />
<line x1="49.4" y1="276.255" x2="54.199999999999996" y2="276.255" stroke="#222" stroke-width="1.4" />
<line x1="49.4" y1="287.178" x2="54.199999999999996" y2="287.178" stroke="#222" stroke-width="1.4" />
<line x1="51.8" y1="292.805" x2="51.8" y2="306.045" stroke="#222" stroke-width="1.2" />
<line x1="49.4" y1="292.805" x2="54.199999999999996" y2="292.805" stroke="#222" stroke-width="1.4" />
<line x1="49.4" y1="306.045" x2="54.199999999999996" y2="306.045" stroke="#222" stroke-width="1.4" />
<line x1="51.8" y1="295.122" x2="51.8" y2="304.39" stroke="#222" stroke-width="1.2" />
<line x1="49.4" y1="295.122" x2="54.199999999999996" y2="295.122" stroke="#222" stroke-width="1.4" />
<line x1="49.4" y1="304.39" x2="54.199999999999996" y2="304.39" stroke="#222" stroke-width="1.4" />
<line x1="51.8" y1="299.425" x2="51.8" y2="302.735" stroke="#222" stroke-width="1.2" />
<line x1="49.4" y1="299.425" x2="54.199999999999996" y2="299.425" stroke="#222" stroke-width="1.4" />
<line x1="49.4" y1="302.735" x2="54.199999999999996" y2="302.735" stroke="#222" stroke-width="1.4" />
<line x1="99" y1="279.565" x2="99" y2="298.76300000000003" stroke="#222" stroke-width="1.2" />
<line x1="96.6" y1="279.565" x2="101.4" y2="279.565" stroke="#222" stroke-width="1.4" />
<line x1="96.6" y1="298.76300000000003" x2="101.4" y2="298.76300000000003" stroke="#222" stroke-width="1.4" />
<line x1="99" y1="303.728" x2="99" y2="312.334" stroke="#222" stroke-width="1.2" />
<line x1="96.6" y1="303.728" x2="101.4" y2="303.728" stroke="#222" stroke-width="1.4" />
<line x1="96.6" y1="312.334" x2="101.4" y2="312.334" stroke="#222" stroke-width="1.4" />
<line x1="146.2" y1="244.81" x2="146.2" y2="274.6" stroke="#222" stroke-width="1.2" />
<line x1="143.79999999999998" y1="244.81" x2="148.6" y2="244.81" stroke="#222" stroke-width="1.4" />
<line x1="143.79999999999998" y1="274.6" x2="148.6" y2="274.6" stroke="#222" stroke-width="1.4" />
<line x1="146.2" y1="293.798" x2="146.2" y2="305.714" stroke="#222" stroke-width="1.2" />
<line x1="143.79999999999998" y1="293.798" x2="148.6" y2="293.798" stroke="#222" stroke-width="1.4" />
<line x1="143.79999999999998" y1="305.714" x2="148.6" y2="305.714" stroke="#222" stroke-width="1.4" />
<circle cx="51.8" cy="297.4" r="1.85" fill="#fff" stroke="#000" stroke-width="0.95"/>
<circle cx="99.0" cy="292.1" r="1.85" fill="#fff" stroke="#000" stroke-width="0.95"/>
<circle cx="146.2" cy="259.7" r="1.85" fill="#fff" stroke="#000" stroke-width="0.95"/>
<circle cx="51.8" cy="281.2" r="1.85" fill="#666" stroke="#111" stroke-width="0.95"/>
<circle cx="99.0" cy="285.2" r="1.85" fill="#666" stroke="#111" stroke-width="0.95"/>
<circle cx="146.2" cy="297.8" r="1.85" fill="#666" stroke="#111" stroke-width="0.95"/>
<circle cx="51.8" cy="298.1" r="1.85" fill="#fff" stroke="#000" stroke-width="0.95"/>
<circle cx="99.0" cy="308.0" r="1.85" fill="#fff" stroke="#000" stroke-width="0.95"/>
<circle cx="146.2" cy="299.4" r="1.85" fill="#fff" stroke="#000" stroke-width="0.95"/>
<circle cx="51.8" cy="301.7" r="1.85" fill="#000" stroke="#000" stroke-width="0.95"/>
<circle cx="99.0" cy="310.0" r="1.85" fill="#000" stroke="#000" stroke-width="0.95"/>
<circle cx="146.2" cy="295.1" r="1.85" fill="#000" stroke="#000" stroke-width="0.95"/>
<text transform="translate(146.2,244.10000000000002) scale(1,1.06)" font-size="9.2" font-weight="bold" text-anchor="middle" fill="#000" stroke="#000" stroke-width="0.35" letter-spacing="0.6">**</text>
<text transform="translate(202.3,228.3) scale(1,1.06)" font-size="16.3" font-weight="bold" text-anchor="start" fill="#000"  stroke="#000" stroke-width="0.15">E</text>
<line x1="207.1" y1="242.4" x2="207.1" y2="341.04999999999995" stroke="#1a1a1a" stroke-width="1.3" />
<line x1="206.45" y1="340.4" x2="343.7" y2="340.4" stroke="#1a1a1a" stroke-width="1.3" />
<line x1="204.1" y1="340.4" x2="207.1" y2="340.4" stroke="#222" stroke-width="1.1" />
<text transform="translate(202.79999999999998,342.79999999999995) scale(1,1.06)" font-size="8.2" font-weight="normal" text-anchor="end" fill="#000"  stroke="#000" stroke-width="0.3">0.0</text>
<line x1="204.1" y1="326.4" x2="207.1" y2="326.4" stroke="#222" stroke-width="1.1" />
<text transform="translate(202.79999999999998,328.79999999999995) scale(1,1.06)" font-size="8.2" font-weight="normal" text-anchor="end" fill="#000"  stroke="#000" stroke-width="0.3">0.5</text>
<line x1="204.1" y1="312.4" x2="207.1" y2="312.4" stroke="#222" stroke-width="1.1" />
<path d="M763,0L583,0L583,1147C540,1106 483,1065 413,1024C343,983 280,952 224,931L224,1105C325,1152 413,1210 488,1277C563,1344 616,1409 647,1472L763,1472Z" transform="translate(191.40,314.79999999999995) scale(0.00400,-0.00424)" fill="#000" stroke="#000" stroke-width="0.3" vector-effect="non-scaling-stroke"/>
<text transform="translate(195.96,314.79999999999995) scale(1,1.06)" font-size="8.2" font-weight="normal" text-anchor="start" fill="#000"  stroke="#000" stroke-width="0.3">.0</text>
<line x1="204.1" y1="298.4" x2="207.1" y2="298.4" stroke="#222" stroke-width="1.1" />
<path d="M763,0L583,0L583,1147C540,1106 483,1065 413,1024C343,983 280,952 224,931L224,1105C325,1152 413,1210 488,1277C563,1344 616,1409 647,1472L763,1472Z" transform="translate(191.40,300.79999999999995) scale(0.00400,-0.00424)" fill="#000" stroke="#000" stroke-width="0.3" vector-effect="non-scaling-stroke"/>
<text transform="translate(195.96,300.79999999999995) scale(1,1.06)" font-size="8.2" font-weight="normal" text-anchor="start" fill="#000"  stroke="#000" stroke-width="0.3">.5</text>
<line x1="204.1" y1="284.4" x2="207.1" y2="284.4" stroke="#222" stroke-width="1.1" />
<text transform="translate(202.79999999999998,286.79999999999995) scale(1,1.06)" font-size="8.2" font-weight="normal" text-anchor="end" fill="#000"  stroke="#000" stroke-width="0.3">2.0</text>
<line x1="204.1" y1="270.4" x2="207.1" y2="270.4" stroke="#222" stroke-width="1.1" />
<text transform="translate(202.79999999999998,272.79999999999995) scale(1,1.06)" font-size="8.2" font-weight="normal" text-anchor="end" fill="#000"  stroke="#000" stroke-width="0.3">2.5</text>
<line x1="204.1" y1="256.4" x2="207.1" y2="256.4" stroke="#222" stroke-width="1.1" />
<text transform="translate(202.79999999999998,258.79999999999995) scale(1,1.06)" font-size="8.2" font-weight="normal" text-anchor="end" fill="#000"  stroke="#000" stroke-width="0.3">3.0</text>
<line x1="204.1" y1="242.4" x2="207.1" y2="242.4" stroke="#222" stroke-width="1.1" />
<text transform="translate(202.79999999999998,244.8) scale(1,1.06)" font-size="8.2" font-weight="normal" text-anchor="end" fill="#000"  stroke="#000" stroke-width="0.3">3.5</text>
<line x1="230.4" y1="340.4" x2="230.4" y2="343.4" stroke="#1a1a1a" stroke-width="1.1" />
<path d="M806,0L525,0L525,1036C422,940 300,867 160,818L160,1068C234,1092 314,1138 400,1205C486,1272 546,1359 579,1466L806,1466Z" transform="translate(225.95,350.59999999999997) scale(0.00391,-0.00414)" fill="#000" stroke="#000" stroke-width="0.15" vector-effect="non-scaling-stroke"/>
<text transform="translate(230.4,350.59999999999997) scale(1,1.06)" font-size="8" font-weight="bold" text-anchor="start" fill="#000"  stroke="#000" stroke-width="0.15">0</text>
<line x1="275.4" y1="340.4" x2="275.4" y2="343.4" stroke="#1a1a1a" stroke-width="1.1" />
<path d="M806,0L525,0L525,1036C422,940 300,867 160,818L160,1068C234,1092 314,1138 400,1205C486,1272 546,1359 579,1466L806,1466Z" transform="translate(270.95,350.59999999999997) scale(0.00391,-0.00414)" fill="#000" stroke="#000" stroke-width="0.15" vector-effect="non-scaling-stroke"/>
<text transform="translate(275.4,350.59999999999997) scale(1,1.06)" font-size="8" font-weight="bold" text-anchor="start" fill="#000"  stroke="#000" stroke-width="0.15">4</text>
<line x1="320.6" y1="340.4" x2="320.6" y2="343.4" stroke="#1a1a1a" stroke-width="1.1" />
<path d="M806,0L525,0L525,1036C422,940 300,867 160,818L160,1068C234,1092 314,1138 400,1205C486,1272 546,1359 579,1466L806,1466Z" transform="translate(316.15,350.59999999999997) scale(0.00391,-0.00414)" fill="#000" stroke="#000" stroke-width="0.15" vector-effect="non-scaling-stroke"/>
<text transform="translate(320.6,350.59999999999997) scale(1,1.06)" font-size="8" font-weight="bold" text-anchor="start" fill="#000"  stroke="#000" stroke-width="0.15">8</text>
<g transform="translate(186.9,289.3) rotate(-90)"><text style="white-space:pre" transform="translate(-50.56,0) scale(1,1.03)" font-size="9.25" font-weight="bold" stroke="#000" stroke-width="0.15">absolute numbers x</text><path d="M806,0L525,0L525,1036C422,940 300,867 160,818L160,1068C234,1092 314,1138 400,1205C486,1272 546,1359 579,1466L806,1466Z" transform="translate(36.82,0) scale(0.00452,-0.00465)" fill="#000" stroke="#000" stroke-width="0.15" vector-effect="non-scaling-stroke"/><text style="white-space:pre" transform="translate(41.97,0) scale(1,1.03)" font-size="9.25" font-weight="bold" stroke="#000" stroke-width="0.15">0</text><text style="white-space:pre" transform="translate(47.11,-2.8) scale(1,1.03)" font-size="6.2" font-weight="bold" stroke="#000" stroke-width="0.15">3</text></g>
<rect x="211.7" y="242.4" width="22.80000000000001" height="11.599999999999994" fill="#fff" stroke="#8a8a8a" stroke-width="1.1"/>
<text transform="translate(223.1,251.1) scale(1,1.06)" font-size="9.2" font-weight="bold" text-anchor="middle" fill="#000"  stroke="#000" stroke-width="0.15">B220</text>
<polyline points="230.4,279.9 275.4,268.7 320.6,258.4" fill="none" stroke="#555" stroke-width="1.0" />
<polyline points="230.4,295.0 275.4,299.0 320.6,294.2" fill="none" stroke="#111" stroke-width="1.1" stroke-dasharray="3.6,1.9"/>
<polyline points="230.4,295.0 275.4,295.6 320.6,306.2" fill="none" stroke="#555" stroke-width="1.0" />
<polyline points="230.4,294.5 275.4,291.7 320.6,290.0" fill="none" stroke="#000" stroke-width="1.35" />
<line x1="230.4" y1="271.79999999999995" x2="230.4" y2="305.12" stroke="#222" stroke-width="1.2" />
<line x1="228.0" y1="271.79999999999995" x2="232.8" y2="271.79999999999995" stroke="#222" stroke-width="1.4" />
<line x1="228.0" y1="305.12" x2="232.8" y2="305.12" stroke="#222" stroke-width="1.4" />
<line x1="230.4" y1="286.08" x2="230.4" y2="298.68" stroke="#222" stroke-width="1.2" />
<line x1="228.0" y1="286.08" x2="232.8" y2="286.08" stroke="#222" stroke-width="1.4" />
<line x1="228.0" y1="298.68" x2="232.8" y2="298.68" stroke="#222" stroke-width="1.4" />
<line x1="230.4" y1="290.28" x2="230.4" y2="301.2" stroke="#222" stroke-width="1.2" />
<line x1="228.0" y1="290.28" x2="232.8" y2="290.28" stroke="#222" stroke-width="1.4" />
<line x1="228.0" y1="301.2" x2="232.8" y2="301.2" stroke="#222" stroke-width="1.4" />
<line x1="275.4" y1="257.24" x2="275.4" y2="280.76" stroke="#222" stroke-width="1.2" />
<line x1="273.0" y1="257.24" x2="277.79999999999995" y2="257.24" stroke="#222" stroke-width="1.4" />
<line x1="273.0" y1="280.76" x2="277.79999999999995" y2="280.76" stroke="#222" stroke-width="1.4" />
<line x1="275.4" y1="287.76" x2="275.4" y2="307.64" stroke="#222" stroke-width="1.2" />
<line x1="273.0" y1="287.76" x2="277.79999999999995" y2="287.76" stroke="#222" stroke-width="1.4" />
<line x1="273.0" y1="307.64" x2="277.79999999999995" y2="307.64" stroke="#222" stroke-width="1.4" />
<line x1="275.4" y1="289.15999999999997" x2="275.4" y2="302.59999999999997" stroke="#222" stroke-width="1.2" />
<line x1="273.0" y1="289.15999999999997" x2="277.79999999999995" y2="289.15999999999997" stroke="#222" stroke-width="1.4" />
<line x1="273.0" y1="302.59999999999997" x2="277.79999999999995" y2="302.59999999999997" stroke="#222" stroke-width="1.4" />
<line x1="320.6" y1="248.56" x2="320.6" y2="269.84" stroke="#222" stroke-width="1.2" />
<line x1="318.20000000000005" y1="248.56" x2="323.0" y2="248.56" stroke="#222" stroke-width="1.4" />
<line x1="318.20000000000005" y1="269.84" x2="323.0" y2="269.84" stroke="#222" stroke-width="1.4" />
<line x1="320.6" y1="284.68" x2="320.6" y2="312.4" stroke="#222" stroke-width="1.2" />
<line x1="318.20000000000005" y1="284.68" x2="323.0" y2="284.68" stroke="#222" stroke-width="1.4" />
<line x1="318.20000000000005" y1="312.4" x2="323.0" y2="312.4" stroke="#222" stroke-width="1.4" />
<line x1="320.6" y1="287.76" x2="320.6" y2="299.8" stroke="#222" stroke-width="1.2" />
<line x1="318.20000000000005" y1="287.76" x2="323.0" y2="287.76" stroke="#222" stroke-width="1.4" />
<line x1="318.20000000000005" y1="299.8" x2="323.0" y2="299.8" stroke="#222" stroke-width="1.4" />
<circle cx="230.4" cy="279.9" r="1.85" fill="#fff" stroke="#000" stroke-width="0.95"/>
<circle cx="275.4" cy="268.7" r="1.85" fill="#fff" stroke="#000" stroke-width="0.95"/>
<circle cx="320.6" cy="258.4" r="1.85" fill="#fff" stroke="#000" stroke-width="0.95"/>
<circle cx="230.4" cy="295.0" r="1.85" fill="#666" stroke="#111" stroke-width="0.95"/>
<circle cx="275.4" cy="295.6" r="1.85" fill="#666" stroke="#111" stroke-width="0.95"/>
<circle cx="320.6" cy="306.2" r="1.85" fill="#666" stroke="#111" stroke-width="0.95"/>
<circle cx="230.4" cy="295.0" r="1.85" fill="#fff" stroke="#000" stroke-width="0.95"/>
<circle cx="275.4" cy="299.0" r="1.85" fill="#fff" stroke="#000" stroke-width="0.95"/>
<circle cx="320.6" cy="294.2" r="1.85" fill="#fff" stroke="#000" stroke-width="0.95"/>
<circle cx="230.4" cy="294.5" r="1.85" fill="#000" stroke="#000" stroke-width="0.95"/>
<circle cx="275.4" cy="291.7" r="1.85" fill="#000" stroke="#000" stroke-width="0.95"/>
<circle cx="320.6" cy="290.0" r="1.85" fill="#000" stroke="#000" stroke-width="0.95"/>
<text transform="translate(275.4,256.7) scale(1,1.06)" font-size="9.2" font-weight="bold" text-anchor="middle" fill="#000" stroke="#000" stroke-width="0.35" letter-spacing="0.6">*</text>
<text transform="translate(320.6,247.70000000000002) scale(1,1.06)" font-size="9.2" font-weight="bold" text-anchor="middle" fill="#000" stroke="#000" stroke-width="0.35" letter-spacing="0.6">**</text>
<text transform="translate(373.9,227.5) scale(1,1.06)" font-size="16.3" font-weight="bold" text-anchor="start" fill="#000"  stroke="#000" stroke-width="0.15">F</text>
<line x1="381.3" y1="241.5" x2="381.3" y2="339.95" stroke="#1a1a1a" stroke-width="1.3" />
<line x1="380.65000000000003" y1="339.3" x2="517.7" y2="339.3" stroke="#1a1a1a" stroke-width="1.3" />
<line x1="376.8" y1="339.3" x2="381.3" y2="339.3" stroke="#222" stroke-width="1.1" />
<text transform="translate(374.1,341.7) scale(1,1.06)" font-size="8.2" font-weight="normal" text-anchor="end" fill="#000"  stroke="#000" stroke-width="0.3">0</text>
<line x1="376.8" y1="314.85" x2="381.3" y2="314.85" stroke="#222" stroke-width="1.1" />
<path d="M763,0L583,0L583,1147C540,1106 483,1065 413,1024C343,983 280,952 224,931L224,1105C325,1152 413,1210 488,1277C563,1344 616,1409 647,1472L763,1472Z" transform="translate(369.54,317.25) scale(0.00400,-0.00424)" fill="#000" stroke="#000" stroke-width="0.3" vector-effect="non-scaling-stroke"/>
<line x1="376.8" y1="290.4" x2="381.3" y2="290.4" stroke="#222" stroke-width="1.1" />
<text transform="translate(374.1,292.79999999999995) scale(1,1.06)" font-size="8.2" font-weight="normal" text-anchor="end" fill="#000"  stroke="#000" stroke-width="0.3">2</text>
<line x1="376.8" y1="265.95" x2="381.3" y2="265.95" stroke="#222" stroke-width="1.1" />
<text transform="translate(374.1,268.34999999999997) scale(1,1.06)" font-size="8.2" font-weight="normal" text-anchor="end" fill="#000"  stroke="#000" stroke-width="0.3">3</text>
<line x1="376.8" y1="241.5" x2="381.3" y2="241.5" stroke="#222" stroke-width="1.1" />
<text transform="translate(374.1,243.9) scale(1,1.06)" font-size="8.2" font-weight="normal" text-anchor="end" fill="#000"  stroke="#000" stroke-width="0.3">4</text>
<line x1="398.5" y1="339.3" x2="398.5" y2="342.3" stroke="#1a1a1a" stroke-width="1.1" />
<text transform="translate(398.5,350.0) scale(1,1.06)" font-size="8" font-weight="bold" text-anchor="middle" fill="#000"  stroke="#000" stroke-width="0.15">3</text>
<line x1="434.8" y1="339.3" x2="434.8" y2="342.3" stroke="#1a1a1a" stroke-width="1.1" />
<path d="M806,0L525,0L525,1036C422,940 300,867 160,818L160,1068C234,1092 314,1138 400,1205C486,1272 546,1359 579,1466L806,1466Z" transform="translate(430.35,350.0) scale(0.00391,-0.00414)" fill="#000" stroke="#000" stroke-width="0.15" vector-effect="non-scaling-stroke"/>
<text transform="translate(434.8,350.0) scale(1,1.06)" font-size="8" font-weight="bold" text-anchor="start" fill="#000"  stroke="#000" stroke-width="0.15">0</text>
<line x1="470.4" y1="339.3" x2="470.4" y2="342.3" stroke="#1a1a1a" stroke-width="1.1" />
<path d="M806,0L525,0L525,1036C422,940 300,867 160,818L160,1068C234,1092 314,1138 400,1205C486,1272 546,1359 579,1466L806,1466Z" transform="translate(465.95,350.0) scale(0.00391,-0.00414)" fill="#000" stroke="#000" stroke-width="0.15" vector-effect="non-scaling-stroke"/>
<text transform="translate(470.4,350.0) scale(1,1.06)" font-size="8" font-weight="bold" text-anchor="start" fill="#000"  stroke="#000" stroke-width="0.15">4</text>
<line x1="506.5" y1="339.3" x2="506.5" y2="342.3" stroke="#1a1a1a" stroke-width="1.1" />
<path d="M806,0L525,0L525,1036C422,940 300,867 160,818L160,1068C234,1092 314,1138 400,1205C486,1272 546,1359 579,1466L806,1466Z" transform="translate(502.05,350.0) scale(0.00391,-0.00414)" fill="#000" stroke="#000" stroke-width="0.15" vector-effect="non-scaling-stroke"/>
<text transform="translate(506.5,350.0) scale(1,1.06)" font-size="8" font-weight="bold" text-anchor="start" fill="#000"  stroke="#000" stroke-width="0.15">8</text>
<text transform="translate(364.4,290.2) rotate(-90) scale(1,1.03)" font-size="9.25" font-weight="bold" text-anchor="middle" stroke="#000" stroke-width="0.15">ng/mL</text>
<rect x="385.0" y="241.6" width="42.60000000000002" height="11.0" fill="#fff" stroke="#8a8a8a" stroke-width="1.1"/>
<g transform="translate(406.30,250.00)"><text style="white-space:pre" transform="translate(-21.14,0) scale(1,1.06)" font-size="9.3" font-weight="bold" stroke="#000" stroke-width="0.15">IgG</text><path d="M806,0L525,0L525,1036C422,940 300,867 160,818L160,1068C234,1092 314,1138 400,1205C486,1272 546,1359 579,1466L806,1466Z" transform="translate(-5.64,0) scale(0.00454,-0.00481)" fill="#000" stroke="#000" stroke-width="0.15" vector-effect="non-scaling-stroke"/><text style="white-space:pre" transform="translate(-0.47,0) scale(1,1.06)" font-size="9.3" font-weight="bold" stroke="#000" stroke-width="0.15"> x</text><path d="M806,0L525,0L525,1036C422,940 300,867 160,818L160,1068C234,1092 314,1138 400,1205C486,1272 546,1359 579,1466L806,1466Z" transform="translate(7.29,0) scale(0.00454,-0.00481)" fill="#000" stroke="#000" stroke-width="0.15" vector-effect="non-scaling-stroke"/><text style="white-space:pre" transform="translate(12.46,0) scale(1,1.06)" font-size="9.3" font-weight="bold" stroke="#000" stroke-width="0.15">0</text><text style="white-space:pre" transform="translate(17.63,-3.0) scale(1,1.06)" font-size="6.3" font-weight="bold" stroke="#000" stroke-width="0.15">7</text></g>
<line x1="434.8" y1="271.329" x2="434.8" y2="322.185" stroke="#222" stroke-width="1.1" />
<line x1="431.5" y1="271.329" x2="438.1" y2="271.329" stroke="#222" stroke-width="1.2" />
<line x1="431.5" y1="322.185" x2="438.1" y2="322.185" stroke="#222" stroke-width="1.2" />
<line x1="470.4" y1="268.884" x2="470.4" y2="316.317" stroke="#222" stroke-width="1.1" />
<line x1="467.09999999999997" y1="268.884" x2="473.7" y2="268.884" stroke="#222" stroke-width="1.2" />
<line x1="467.09999999999997" y1="316.317" x2="473.7" y2="316.317" stroke="#222" stroke-width="1.2" />
<line x1="506.5" y1="253.72500000000002" x2="506.5" y2="283.3095" stroke="#222" stroke-width="1.1" />
<line x1="503.2" y1="253.72500000000002" x2="509.8" y2="253.72500000000002" stroke="#222" stroke-width="1.2" />
<line x1="503.2" y1="283.3095" x2="509.8" y2="283.3095" stroke="#222" stroke-width="1.2" />
<line x1="506.5" y1="304.82550000000003" x2="506.5" y2="325.3635" stroke="#222" stroke-width="1.1" />
<line x1="503.2" y1="304.82550000000003" x2="509.8" y2="304.82550000000003" stroke="#222" stroke-width="1.2" />
<line x1="503.2" y1="325.3635" x2="509.8" y2="325.3635" stroke="#222" stroke-width="1.2" />
<line x1="506.5" y1="327.3195" x2="506.5" y2="334.1655" stroke="#222" stroke-width="1.1" />
<line x1="503.2" y1="327.3195" x2="509.8" y2="327.3195" stroke="#222" stroke-width="1.2" />
<line x1="503.2" y1="334.1655" x2="509.8" y2="334.1655" stroke="#222" stroke-width="1.2" />
<circle cx="434.8" cy="296.5" r="2.2" fill="#fff" stroke="#000" stroke-width="1"/>
<circle cx="470.4" cy="292.4" r="2.2" fill="#fff" stroke="#000" stroke-width="1"/>
<circle cx="506.5" cy="268.4" r="2.2" fill="#fff" stroke="#000" stroke-width="1"/>
<circle cx="506.5" cy="315.3" r="2.2" fill="#000" stroke="#000" stroke-width="1"/>
<circle cx="506.5" cy="330.0" r="2.2" fill="#aaa" stroke="#000" stroke-width="1"/>
<rect x="397.3" y="332.7" width="3.6" height="4.6" fill="#eee" stroke="#000" stroke-width="1.4"/>
<line x1="397.1" y1="334.6" x2="400.9" y2="334.6" stroke="#000" stroke-width="1.5"/>
<circle cx="434.6" cy="335.2" r="2.0" fill="#777" stroke="#000" stroke-width="1.4"/>
<circle cx="470.9" cy="335.5" r="1.7" fill="#888" stroke="#000" stroke-width="1.4"/>
<circle cx="470.9" cy="332.7" r="1.7" fill="#333" stroke="#000" stroke-width="1.4"/>
<text transform="translate(152.6,181.1) scale(1,1.06)" font-size="7.7" font-weight="normal" text-anchor="start" fill="#000" letter-spacing="0.3" stroke="#000" stroke-width="0.3">wks</text>
<line x1="447.8" y1="7.4" x2="466.8" y2="7.4" stroke="#444" stroke-width="1.1"/>
<circle cx="456.9" cy="7.4" r="2.1" fill="#fff" stroke="#000" stroke-width="1.1"/>
<text transform="translate(470.3,10.4) scale(1,1.06)" font-size="8.2" font-weight="normal" text-anchor="start" fill="#000"  stroke="#000" stroke-width="0.3">PEG-ADA</text>
<line x1="448.2" y1="23.0" x2="451.4" y2="23.0" stroke="#111" stroke-width="1.3"/>
<line x1="452.2" y1="23.0" x2="454.2" y2="23.0" stroke="#111" stroke-width="1.3"/>
<line x1="460" y1="23.0" x2="461.8" y2="23.0" stroke="#111" stroke-width="1.3"/>
<line x1="463.4" y1="23.0" x2="466.8" y2="23.0" stroke="#111" stroke-width="1.3"/>
<circle cx="456.9" cy="23.0" r="2.1" fill="#fff" stroke="#000" stroke-width="1.1"/>
<text transform="translate(470.3,26.0) scale(1,1.06)" font-size="8.2" font-weight="normal" text-anchor="start" fill="#000"  stroke="#000" stroke-width="0.3">LV GT</text>
<line x1="447.8" y1="39.2" x2="466.8" y2="39.2" stroke="#777" stroke-width="1.1"/>
<circle cx="456.9" cy="39.2" r="2.1" fill="#999" stroke="#000" stroke-width="1.1"/>
<text transform="translate(470.3,42.2) scale(1,1.06)" font-size="8.2" font-weight="normal" text-anchor="start" fill="#000"  stroke="#000" stroke-width="0.3">BMT</text>
<line x1="447.8" y1="54.9" x2="466.8" y2="54.9" stroke="#000" stroke-width="1.3"/>
<circle cx="456.9" cy="54.9" r="2.2" fill="#000" stroke="#000" stroke-width="1.1"/>
<text transform="translate(470.3,57.9) scale(1,1.06)" font-size="8.2" font-weight="normal" text-anchor="start" fill="#000"  stroke="#000" stroke-width="0.3">ADA+/+</text>
<rect x="454.5" y="67.89999999999999" width="4.8" height="4.8" fill="#fff" stroke="#000" stroke-width="1.1"/>
<text transform="translate(470.3,73.3) scale(1,1.06)" font-size="8.2" font-weight="normal" text-anchor="start" fill="#000"  stroke="#000" stroke-width="0.3">ADA-/- 3wks</text>
</svg></body></html>
